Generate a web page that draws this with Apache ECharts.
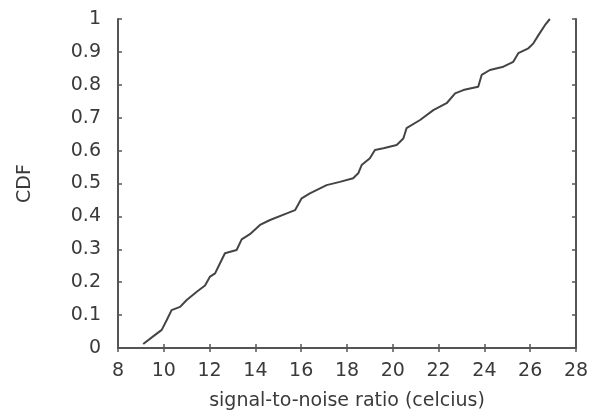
<!DOCTYPE html>
<html>
<head>
<meta charset="utf-8">
<script src="https://cdn.jsdelivr.net/npm/echarts@6/dist/echarts.min.js"></script>
<style>html,body{margin:0;padding:0;background:#fff}#c{width:592px;height:419px}</style>
</head>
<body>
<div id="c"></div>
<script>
const snrValues = [9.10, 9.62, 9.91, 10.13, 10.34, 10.71, 11.00, 11.44, 11.80, 12.02, 12.24, 12.38, 12.67, 13.18, 13.40, 13.76, 14.20, 14.64, 15.37, 15.73, 16.02, 16.38, 17.11, 17.69, 18.27, 18.49, 18.64, 19.00, 19.22, 19.59, 20.17, 20.46, 20.60, 21.19, 21.77, 22.35, 22.72, 23.08, 23.37, 23.73, 23.88, 24.24, 24.83, 25.26, 25.48, 25.92, 26.14, 26.36, 26.65, 26.86];
const cdfValues = [0.012, 0.040, 0.055, 0.085, 0.115, 0.125, 0.146, 0.171, 0.190, 0.217, 0.227, 0.247, 0.288, 0.298, 0.330, 0.346, 0.374, 0.389, 0.409, 0.419, 0.455, 0.470, 0.495, 0.505, 0.516, 0.531, 0.556, 0.577, 0.602, 0.607, 0.617, 0.637, 0.668, 0.693, 0.723, 0.744, 0.774, 0.784, 0.789, 0.794, 0.830, 0.845, 0.855, 0.870, 0.896, 0.911, 0.926, 0.951, 0.982, 1.000];
const xTicks = [8, 10, 12, 14, 16, 18, 20, 22, 24, 26, 28];
const yTicks = [0, 0.1, 0.2, 0.3, 0.4, 0.5, 0.6, 0.7, 0.8, 0.9, 1];
const xName = 'signal-to-noise ratio (celcius)';
const yName = 'CDF';

const chart = echarts.init(document.getElementById('c'));
const axisColor = '#555';
const font = 'DejaVu Sans, sans-serif';
const textColor = '#3a3a3a';
const data = snrValues.map((v, i) => [v, cdfValues[i]]);
const baseLine = {show: true, lineStyle: {color: axisColor, width: 2}};
const tick = {show: true, inside: true, length: 4, lineStyle: {color: axisColor, width: 1.5}};
chart.setOption({
  animation: false,
  grid: {left: 118, right: 16, top: 19, bottom: 71},
  xAxis: [{
    type: 'value', min: xTicks[0], max: xTicks[xTicks.length - 1], interval: 2,
    axisLine: baseLine, axisTick: tick, splitLine: {show: false},
    axisLabel: {color: textColor, fontSize: 19, fontFamily: font, margin: 14},
    name: xName, nameLocation: 'middle', nameGap: 44,
    nameTextStyle: {color: textColor, fontSize: 19, fontFamily: font}
  }, {
    type: 'value', position: 'top', min: 8, max: 28, interval: 2,
    axisLine: baseLine, axisTick: tick, axisLabel: {show: false}, splitLine: {show: false}
  }],
  yAxis: [{
    type: 'value', min: yTicks[0], max: yTicks[yTicks.length - 1], interval: 0.1,
    axisLine: baseLine, axisTick: tick, splitLine: {show: false},
    axisLabel: {color: textColor, fontSize: 19, fontFamily: font, margin: 17,
      formatter: v => String(Math.round(v * 10) / 10)},
    name: yName, nameLocation: 'middle', nameGap: 83, nameRotate: 90,
    nameTextStyle: {color: textColor, fontSize: 19, fontFamily: font}
  }, {
    type: 'value', position: 'right', min: 0, max: 1, interval: 0.1,
    axisLine: baseLine, axisTick: tick, axisLabel: {show: false}, splitLine: {show: false}
  }],
  series: [{
    type: 'line', data: data, xAxisIndex: 0, yAxisIndex: 0,
    showSymbol: false, lineStyle: {color: '#444', width: 2}
  }]
});
</script>
</body>
</html>
